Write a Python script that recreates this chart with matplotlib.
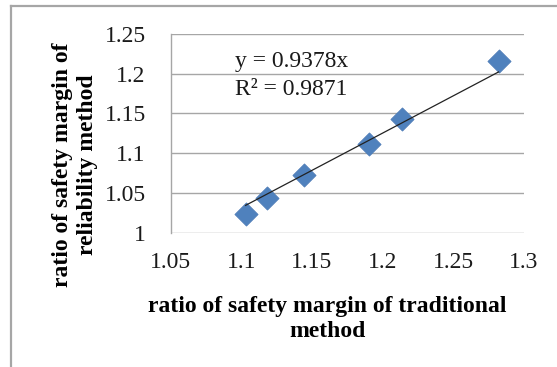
import matplotlib
matplotlib.use('Agg')
import matplotlib.pyplot as plt
from matplotlib.lines import Line2D

# data
traditional = [1.103, 1.118, 1.144, 1.190, 1.214, 1.282]
reliability = [1.024, 1.044, 1.072, 1.111, 1.143, 1.216]
slope = 0.9378
r_squared = 0.9871
x_ticks = [1.05, 1.1, 1.15, 1.2, 1.25, 1.3]
x_tick_labels = ['1.05', '1.1', '1.15', '1.2', '1.25', '1.3']
y_ticks = [1, 1.05, 1.1, 1.15, 1.2, 1.25]
y_tick_labels = ['1', '1.05', '1.1', '1.15', '1.2', '1.25']

plt.rcParams['font.family'] = ['Liberation Serif', 'DejaVu Serif']

W, H = 557, 367
fig = plt.figure(figsize=(W / 100, H / 100), dpi=100)
fig.patch.set_facecolor('white')

# outer chart border (gray)
border = '#a6a6a6'
fig.add_artist(Line2D([11 / W, 11 / W], [0, 1 - 6 / H], transform=fig.transFigure, color=border, lw=1.6))
fig.add_artist(Line2D([11 / W, 1], [1 - 6 / H, 1 - 6 / H], transform=fig.transFigure, color=border, lw=1.6))

ax = fig.add_axes([170.7 / W, (H - 232.7) / H, 353.3 / W, 198.7 / H])
ax.set_xlim(1.05, 1.3)
ax.set_ylim(1, 1.25)

# horizontal gridlines only
for yv in y_ticks:
    ax.axhline(yv, color='#a6a6a6', lw=1.0, zorder=1)

for side in ['top', 'right', 'bottom']:
    ax.spines[side].set_visible(False)
ax.spines['left'].set_color('#a6a6a6')
ax.spines['left'].set_linewidth(1.0)

ax.set_xticks(x_ticks)
ax.set_xticklabels(x_tick_labels)
ax.set_yticks(y_ticks)
ax.set_yticklabels(y_tick_labels)
ax.tick_params(axis='both', length=0, labelsize=17, colors='#1a1a1a')
ax.tick_params(axis='y', pad=18)
ax.tick_params(axis='x', pad=14)

ax.scatter(traditional, reliability, marker='D', s=140, color='#4f81bd',
           edgecolors='#4a7ab5', linewidths=0.5, zorder=3)

# linear trendline through origin
x0, x1 = min(traditional), max(traditional)
ax.plot([x0, x1], [slope * x0, slope * x1], color='#222222', lw=0.9, zorder=4)

ax.text(1.0955, 1.2155, f'y = {slope}x', fontsize=17, va='center', ha='left', color='#1a1a1a')
ax.text(1.0955, 1.1805, f'R² = {r_squared}', fontsize=17, va='center', ha='left', color='#1a1a1a')

fig.text(327 / W, 1 - 319 / H, 'ratio of safety margin of traditional\nmethod',
         ha='center', va='center', fontsize=17, fontweight='bold', linespacing=1.2)
fig.text(75 / W, 1 - 165 / H, 'ratio of safety margin of\nreliability method',
         ha='center', va='center', rotation=90, fontsize=17, fontweight='bold', linespacing=1.2)

fig.savefig('out.png', dpi=100)
